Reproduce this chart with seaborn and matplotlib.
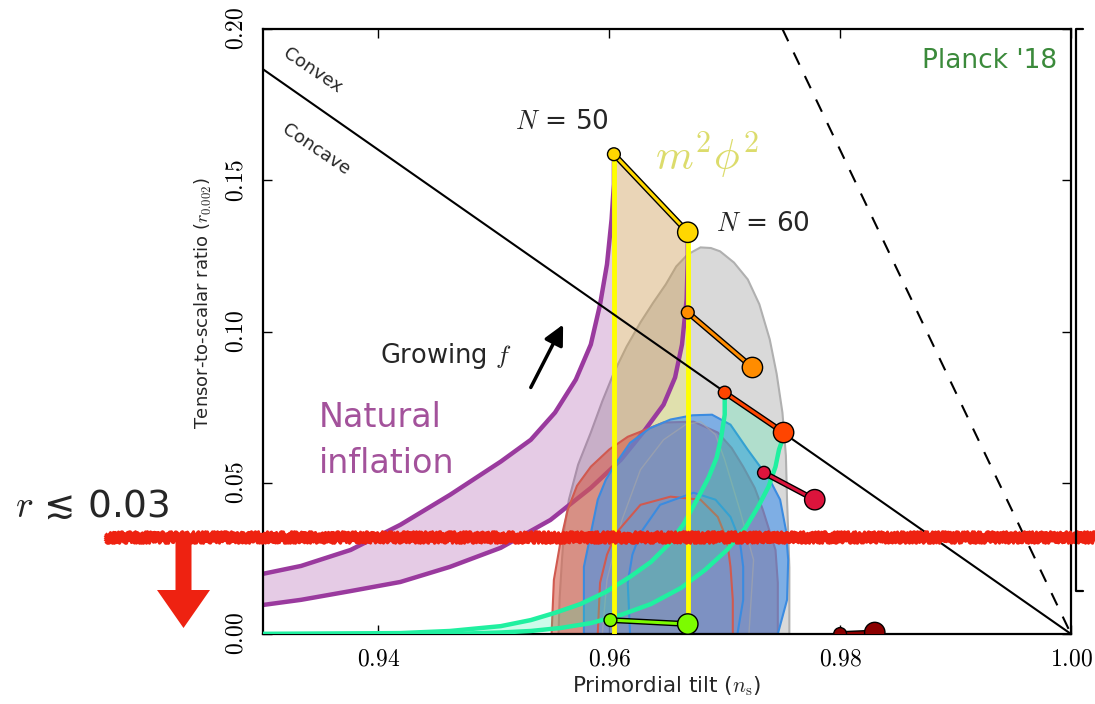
import matplotlib
matplotlib.use("Agg")
import matplotlib.pyplot as plt
import matplotlib.patheffects as pe
import matplotlib.transforms as mtransforms
from matplotlib.colors import to_rgba
from matplotlib.lines import Line2D
from matplotlib.patches import FancyArrow
import pandas as pd
import seaborn as sns

# ---------------------------------------------------------------- axes
ns_limits = (0.93, 1.00)
r_limits = (0.0, 0.20)
x_tick_values = [0.94, 0.96, 0.98, 1.00]
x_tick_labels = ["0.94", "0.96", "0.98", "1.00"]
y_tick_values = [0.00, 0.05, 0.10, 0.15, 0.20]
y_tick_labels = ["0.00", "0.05", "0.10", "0.15", "0.20"]

# ---------------------------------------------------------------- Planck '18 contours
grey_outer_ns = [0.9556, 0.9557, 0.9559, 0.9561, 0.9565, 0.9573, 0.9584, 0.9594, 0.9604,
                 0.9615, 0.9627, 0.9638, 0.9649, 0.9658, 0.9668, 0.9679, 0.9688, 0.9696,
                 0.9708, 0.9720, 0.9730, 0.9739, 0.9745, 0.9750, 0.9753, 0.9754, 0.9756, 0.9756]
grey_outer_r = [0.0000, 0.0120, 0.0245, 0.0345, 0.0444, 0.0560, 0.0666, 0.0770, 0.0864,
                0.0950, 0.1030, 0.1095, 0.1156, 0.1215, 0.1255, 0.1278, 0.1276, 0.1265,
                0.1228, 0.1172, 0.1090, 0.0974, 0.0860, 0.0732, 0.0590, 0.0444, 0.0220, 0.0000]
grey_inner_ns = [0.9594, 0.9598, 0.9611, 0.9627, 0.9647, 0.9666, 0.9679, 0.9692, 0.9700,
                 0.9713, 0.9725, 0.9721]
grey_inner_r = [0.0000, 0.0179, 0.0377, 0.0543, 0.0642, 0.0692, 0.0702, 0.0659, 0.0576,
                0.0411, 0.0245, 0.0000]

red_outer_ns = [0.9550, 0.9552, 0.9558, 0.9564, 0.9572, 0.9584, 0.9600, 0.9616, 0.9647,
                0.9673, 0.9694, 0.9706, 0.9716, 0.9726, 0.9733, 0.9744, 0.9746, 0.9746]
red_outer_r = [0.0000, 0.0179, 0.0311, 0.0411, 0.0490, 0.0553, 0.0610, 0.0652, 0.0699,
               0.0702, 0.0666, 0.0615, 0.0553, 0.0483, 0.0411, 0.0278, 0.0169, 0.0000]
red_inner_ns = [0.9590, 0.9592, 0.9598, 0.9606, 0.9627, 0.9653, 0.9679, 0.9694, 0.9702,
                0.9705, 0.9707, 0.9707]
red_inner_r = [0.0000, 0.0169, 0.0262, 0.0334, 0.0427, 0.0454, 0.0444, 0.0387, 0.0311,
               0.0222, 0.0113, 0.0000]

blue_outer_ns = [0.9578, 0.9578, 0.9590, 0.9597, 0.9605, 0.9618, 0.9635, 0.9653, 0.9672,
                 0.9689, 0.9705, 0.9720, 0.9739, 0.9748, 0.9753, 0.9755, 0.9754, 0.9746]
blue_outer_r = [0.0000, 0.0222, 0.0444, 0.0510, 0.0560, 0.0632, 0.0680, 0.0709, 0.0723,
                0.0725, 0.0692, 0.0609, 0.0510, 0.0444, 0.0344, 0.0245, 0.0113, 0.0000]
blue_inner_ns = [0.9618, 0.9616, 0.9620, 0.9627, 0.9644, 0.9673, 0.9692, 0.9705, 0.9713,
                 0.9716, 0.9716, 0.9711]
blue_inner_r = [0.0000, 0.0169, 0.0262, 0.0334, 0.0427, 0.0467, 0.0444, 0.0387, 0.0311,
                0.0222, 0.0113, 0.0000]

# ---------------------------------------------------------------- natural inflation band
natural_n50_ns = [0.9300, 0.9333, 0.9376, 0.9419, 0.9462, 0.9506, 0.9532, 0.9553, 0.9571,
                  0.9584, 0.9592, 0.9598, 0.9602, 0.9604, 0.9604]
natural_n50_r = [0.0199, 0.0225, 0.0278, 0.0361, 0.0460, 0.0570, 0.0642, 0.0732, 0.0841,
                 0.0957, 0.1089, 0.1222, 0.1371, 0.1487, 0.1586]
natural_n60_ns = [0.9300, 0.9333, 0.9376, 0.9419, 0.9462, 0.9506, 0.9549, 0.9584, 0.9610,
                  0.9631, 0.9647, 0.9657, 0.9663, 0.9667, 0.9668, 0.9668]
natural_n60_r = [0.0096, 0.0113, 0.0142, 0.0172, 0.0222, 0.0285, 0.0377, 0.0483, 0.0576,
                 0.0675, 0.0758, 0.0848, 0.0957, 0.1106, 0.1238, 0.1328]

# ---------------------------------------------------------------- second model family (green band)
green_upper_ns = [0.9300, 0.9376, 0.9419, 0.9462, 0.9506, 0.9532, 0.9553, 0.9575, 0.9597,
                  0.9618, 0.9636, 0.9651, 0.9664, 0.9676, 0.9686, 0.9693, 0.9697, 0.9700,
                  0.9700]
green_upper_r = [0.0000, 0.0002, 0.0003, 0.0010, 0.0026, 0.0046, 0.0070, 0.0099, 0.0139,
                 0.0189, 0.0238, 0.0295, 0.0361, 0.0444, 0.0517, 0.0583, 0.0652, 0.0725,
                 0.0798]
green_lower_ns = [0.9300, 0.9462, 0.9506, 0.9532, 0.9558, 0.9584, 0.9610, 0.9636, 0.9662,
                  0.9683, 0.9702, 0.9718, 0.9729, 0.9738, 0.9744, 0.9747, 0.9750, 0.9751]
green_lower_r = [0.0000, 0.0000, 0.0005, 0.0010, 0.0020, 0.0036, 0.0063, 0.0099, 0.0152,
                 0.0212, 0.0278, 0.0351, 0.0421, 0.0487, 0.0553, 0.0609, 0.0642, 0.0666]

# ---------------------------------------------------------------- N = 50 / N = 60 predictions
pair_models = ["m2phi2", "orange", "orangered", "crimson", "lawngreen", "darkred"]
pair_colors = ["#ffd700", "#ff8c00", "#ff4500", "#dc143c", "#7cfc00", "#8b0000"]
n50_ns = [0.9604, 0.9668, 0.9700, 0.9734, 0.9601, 0.9800]
n50_r = [0.1586, 0.1063, 0.0798, 0.0533, 0.0046, 0.0000]
n60_ns = [0.9668, 0.9724, 0.9751, 0.9778, 0.9668, 0.9830]
n60_r = [0.1328, 0.0881, 0.0666, 0.0444, 0.0033, 0.0005]

# ---------------------------------------------------------------- reference lines
concave_ns = [0.93, 1.00]
concave_r = [0.1867, 0.0]
linear_ns = [0.975, 1.00]
linear_r = [0.20, 0.0]
r_limit = 0.032

# ---------------------------------------------------------------- style
sns.set_theme(style="ticks")
plt.rcParams["font.family"] = ["DejaVu Sans"]
plt.rcParams["mathtext.fontset"] = "cm"
plt.rcParams["axes.facecolor"] = "white"

W, H = 1095, 704
fig = plt.figure(figsize=(W / 100, H / 100), dpi=100)
ax = fig.add_axes([263 / W, 1 - 634 / H, (1071 - 263) / W, (634 - 29) / H])


def curve(x, y, **kw):
    sns.lineplot(x=x, y=y, sort=False, estimator=None, ax=ax, **kw)


# Planck grey region
ax.fill(grey_outer_ns, grey_outer_r, facecolor=(0, 0, 0, 0.15), edgecolor="#b0b0b0",
        lw=1.5, zorder=1)

# natural inflation band
band_ns = natural_n50_ns + natural_n60_ns[::-1]
band_r = natural_n50_r + natural_n60_r[::-1]
ax.fill(band_ns, band_r, facecolor=to_rgba("#993399", 0.25), edgecolor="none", zorder=1.2)

# m^2 phi^2 strip
m2_ns = [n50_ns[0], n50_ns[0], n60_ns[0], n60_ns[0]]
m2_r = [0.0, n50_r[0], n60_r[0], 0.0]
ax.fill(m2_ns, m2_r, facecolor=to_rgba("#ffff00", 0.2), edgecolor="none", zorder=1.4)

curve(natural_n50_ns, natural_n50_r, color="#9a3a9e", lw=3.2, zorder=1.6)
curve(natural_n60_ns, natural_n60_r, color="#9a3a9e", lw=3.2, zorder=1.6)

# Planck red / blue contours
ax.fill(red_outer_ns, red_outer_r, facecolor=to_rgba("#d6604d", 0.6),
        edgecolor="#d05a50", lw=1.5, zorder=2)
ax.fill(blue_outer_ns, blue_outer_r, facecolor=to_rgba("#4292ec", 0.6),
        edgecolor="#3b8be0", lw=1.5, zorder=2.1)
curve(grey_inner_ns, grey_inner_r, color="#a8a8a8", lw=1.0, alpha=0.6, zorder=2.15)
curve(red_inner_ns, red_inner_r, color="#d05a50", lw=1.5, zorder=2.2)
curve(blue_inner_ns, blue_inner_r, color="#3b8be0", lw=1.5, zorder=2.2)

# green band
gb_ns = green_upper_ns + green_lower_ns[::-1]
gb_r = green_upper_r + green_lower_r[::-1]
ax.fill(gb_ns, gb_r, facecolor=to_rgba("#20f0a0", 0.22), edgecolor="none", zorder=2.5)
curve(green_upper_ns, green_upper_r, color="#20f0a0", lw=3.2, zorder=2.6)
curve(green_lower_ns, green_lower_r, color="#20f0a0", lw=3.2, zorder=2.6)

# m^2 phi^2 verticals
for x0, y0 in [(n50_ns[0], n50_r[0]), (n60_ns[0], n60_r[0])]:
    curve([x0, x0], [0.0, y0], color="#ffff00", lw=3.5, zorder=2.8)

# concave / convex boundary and the dashed line
curve(concave_ns, concave_r, color="black", lw=1.5, zorder=3)
curve(linear_ns, linear_r, color="black", lw=1.5, linestyle=(0, (6.5, 6)), zorder=3)

# N = 50 -> N = 60 segments and points
for c, x0, y0, x1, y1 in zip(pair_colors, n50_ns, n50_r, n60_ns, n60_r):
    curve([x0, x1], [y0, y1], color=c, lw=2.2, zorder=4,
          path_effects=[pe.Stroke(linewidth=4.2, foreground="black"), pe.Normal()])

palette = dict(zip(pair_models, pair_colors))
small_df = pd.DataFrame({"model": pair_models, "ns": n50_ns, "r": n50_r})
large_df = pd.DataFrame({"model": pair_models, "ns": n60_ns, "r": n60_r})
sns.scatterplot(data=small_df, x="ns", y="r", hue="model", palette=palette, s=85,
                edgecolor="black", linewidth=1.0, legend=False, zorder=5, ax=ax)
sns.scatterplot(data=large_df, x="ns", y="r", hue="model", palette=palette, s=215,
                edgecolor="black", linewidth=1.0, legend=False, zorder=5, ax=ax)

# axes, ticks and labels
ax.set_xlim(*ns_limits)
ax.set_ylim(*r_limits)
for s in ax.spines.values():
    s.set_linewidth(1.6)
    s.set_color("black")
ax.tick_params(direction="in", top=True, right=True, length=6.5, width=1.0,
               colors="black", labelsize=17)
ax.tick_params(axis="x", pad=9)
ax.tick_params(axis="y", pad=11)
ax.set_xticks(x_tick_values, labels=[f"${t}$" for t in x_tick_labels])
ax.set_yticks(y_tick_values, labels=[f"${t}$" for t in y_tick_labels],
              rotation=90, va="center")
ax.set_xlabel(r"Primordial tilt ($n_{\rm s}$)", fontsize=15.5)
ax.set_ylabel(r"Tensor-to-scalar ratio ($r_{0.002}$)", fontsize=13)
ax.xaxis.set_label_coords(0.5, -0.066)
ax.yaxis.set_label_coords(-0.061, 0.546)

# annotations
ax.text(0.93433, 0.1861, "Convex", rotation=-34, ha="center", va="center",
        rotation_mode="anchor", fontsize=13, zorder=6)
ax.text(0.93455, 0.1603, "Concave", rotation=-34, ha="center", va="center",
        rotation_mode="anchor", fontsize=13, zorder=6)
ax.text(0.95186, 0.1669, "$N$ = 50", fontsize=19, va="baseline", zorder=6)
ax.text(0.96926, 0.1331, "$N$ = 60", fontsize=19, va="baseline", zorder=6)
ax.text(0.96398, 0.1536, r"$m^2\phi^2$", fontsize=31, color="#dcdc6c", va="baseline",
        zorder=6)
ax.text(0.9827, 0.9355, "Planck '18", transform=ax.transAxes, ha="right", va="baseline",
        fontsize=19, color="#3b8a3b", zorder=6)
ax.text(0.94017, 0.0897, r"Growing $f$", fontsize=18.5, va="baseline", zorder=6)
ax.text(0.9348, 0.0685, "Natural", fontsize=24, color="#a3529b", va="baseline", zorder=6)
ax.text(0.9348, 0.0533, "inflation", fontsize=24, color="#a3529b", va="baseline", zorder=6)
ax.annotate("", xy=(0.9560, 0.1023), xytext=(0.9532, 0.0815),
            arrowprops=dict(arrowstyle="-|>,head_length=0.6,head_width=0.3", lw=2.5,
                            color="black", shrinkA=0, shrinkB=0, mutation_scale=20),
            zorder=6)

# hand-drawn bound r < 0.03 across the figure
blend = mtransforms.blended_transform_factory(fig.transFigure, ax.transData)
for dy, lw in [(-3.8, 2.2), (-1.9, 2.6), (0.0, 2.6), (1.9, 2.6), (3.8, 2.2)]:
    tr = mtransforms.offset_copy(blend, fig=fig, y=dy, units="dots")
    ln, = ax.plot([105 / W, 1.0], [r_limit, r_limit], transform=tr, color="#ee2211",
                  lw=lw, clip_on=False, zorder=7, solid_capstyle="butt")
    ln.set_sketch_params(scale=1.8, length=2.5, randomness=4)

fig.add_artist(FancyArrow(1.835, (H - 537) / 100, 0, -0.91, width=0.16, head_width=0.53,
                          head_length=0.38, length_includes_head=True,
                          transform=fig.dpi_scale_trans, color="#ee2211", lw=0))
fig.text(15 / W, 1 - 517 / H, "$r$ \u2272 0.03", fontsize=27, va="baseline")

# edge of the neighbouring panel
fig.add_artist(Line2D([1083 / W, 1076 / W, 1076 / W, 1083 / W],
                      [1 - 29 / H, 1 - 29 / H, 1 - 591 / H, 1 - 591 / H],
                      transform=fig.transFigure, color="black", lw=1.6))

fig.savefig("out.png", dpi=100)
